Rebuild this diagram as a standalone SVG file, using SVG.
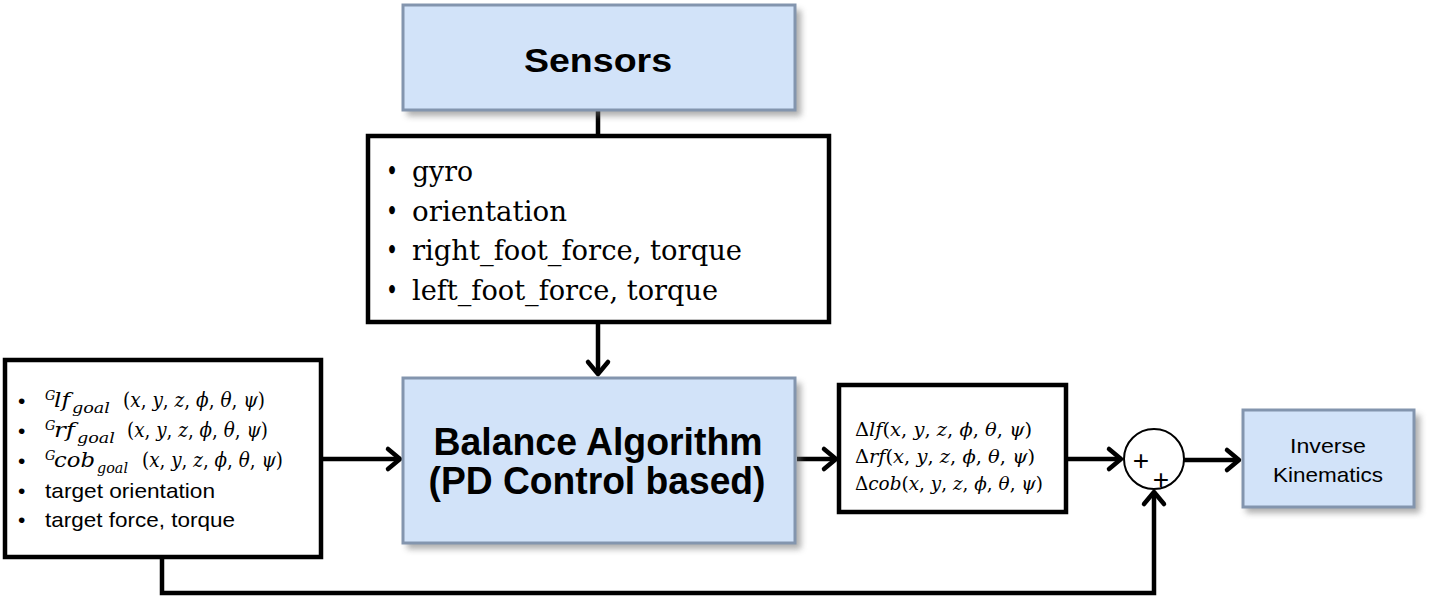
<svg xmlns="http://www.w3.org/2000/svg" width="1431" height="599" viewBox="0 0 1431 599">
<style>
.blk{fill:#fff;stroke:#000;stroke-width:4.5}
.blue{fill:#d2e3f9;stroke:#8395ae;stroke-width:3}
.shadow{fill:#6b6b6b;opacity:0.55}
.conn{fill:none;stroke:#000;stroke-width:4.5;stroke-linejoin:miter}
.arr{marker-end:url(#ah)}
.bold{font-family:"Liberation Sans",Arial,sans-serif;font-weight:bold;fill:#000}
.sans{font-family:"Liberation Sans",Arial,sans-serif;fill:#000}
.ser{font-family:"DejaVu Serif","Liberation Serif",serif;fill:#000}
.it{font-style:italic}
</style>
<defs>
<filter id="blur" x="-10%" y="-10%" width="120%" height="130%"><feGaussianBlur stdDeviation="3"/></filter>
<marker id="ah" markerUnits="userSpaceOnUse" markerWidth="30" markerHeight="30" refX="0" refY="0" orient="auto" overflow="visible">
<path d="M-12,-10 L0,0 L-12,10" fill="none" stroke="#000" stroke-width="4.5" stroke-linecap="round" stroke-linejoin="round"/>
</marker>
</defs>
<rect width="1431" height="599" fill="#fff"/>

<g id="connectors">
<line class="conn" x1="598" y1="110" x2="598" y2="136"/>
<line class="conn arr" x1="598" y1="323" x2="598" y2="374"/>
<line class="conn arr" x1="321" y1="459" x2="400" y2="459"/>
<line class="conn arr" x1="797" y1="459" x2="836" y2="459"/>
<line class="conn arr" x1="1066" y1="459" x2="1121" y2="459"/>
<line class="conn arr" x1="1184" y1="460" x2="1239" y2="460"/>
<polyline class="conn arr" points="162,557 162,593 1154,593 1154,492"/>
</g>

<g id="sensors">
<rect class="shadow" x="407" y="10" width="394" height="106" filter="url(#blur)"/>
<rect class="blue" x="403" y="5" width="392" height="105"/>
<text class="bold" x="598" y="72" font-size="33" text-anchor="middle" textLength="148" lengthAdjust="spacingAndGlyphs">Sensors</text>
</g>

<g id="sensor-list">
<rect class="blk" x="368" y="136" width="461" height="186"/>
<g class="ser" font-size="28">
<text x="386" y="181" textLength="12" lengthAdjust="spacingAndGlyphs">•</text>
<text x="412" y="181" textLength="61" lengthAdjust="spacingAndGlyphs">gyro</text>
<text x="386" y="221" textLength="12" lengthAdjust="spacingAndGlyphs">•</text>
<text x="412" y="221" textLength="155" lengthAdjust="spacingAndGlyphs">orientation</text>
<text x="386" y="260" textLength="12" lengthAdjust="spacingAndGlyphs">•</text>
<text x="412" y="260" textLength="330" lengthAdjust="spacingAndGlyphs">right_foot_force, torque</text>
<text x="386" y="300" textLength="12" lengthAdjust="spacingAndGlyphs">•</text>
<text x="412" y="300" textLength="306" lengthAdjust="spacingAndGlyphs">left_foot_force, torque</text>
</g>
</g>

<g id="balance">
<rect class="shadow" x="407" y="383" width="394" height="166" filter="url(#blur)"/>
<rect class="blue" x="403" y="378" width="392" height="165"/>
<text class="bold" x="598" y="455" font-size="38" text-anchor="middle" textLength="329" lengthAdjust="spacingAndGlyphs">Balance Algorithm</text>
<text class="bold" x="597" y="494" font-size="38" text-anchor="middle" textLength="337" lengthAdjust="spacingAndGlyphs">(PD Control based)</text>
</g>

<g id="goal-inputs">
<rect class="blk" x="5" y="360" width="316" height="197"/>
<g class="ser" font-size="20">
<text class="sans" x="18" y="408" font-size="21">•</text>
<text class="it" x="45" y="400" font-size="13">G</text>
<text class="it" x="54" y="407" textLength="16" lengthAdjust="spacingAndGlyphs">lf</text>
<text class="it" x="72" y="413" font-size="14" textLength="38" lengthAdjust="spacingAndGlyphs">goal</text>
<text x="123" y="407" textLength="142" lengthAdjust="spacingAndGlyphs">(<tspan class="it">x</tspan>, <tspan class="it">y</tspan>, <tspan class="it">z</tspan>, <tspan class="it">ϕ</tspan>, <tspan class="it">θ</tspan>, <tspan class="it">ψ</tspan>)</text>

<text class="sans" x="18" y="438" font-size="21">•</text>
<text class="it" x="45" y="430" font-size="13">G</text>
<text class="it" x="54" y="437" textLength="21" lengthAdjust="spacingAndGlyphs">rf</text>
<text class="it" x="77" y="443" font-size="14" textLength="38" lengthAdjust="spacingAndGlyphs">goal</text>
<text x="127" y="437" textLength="141" lengthAdjust="spacingAndGlyphs">(<tspan class="it">x</tspan>, <tspan class="it">y</tspan>, <tspan class="it">z</tspan>, <tspan class="it">ϕ</tspan>, <tspan class="it">θ</tspan>, <tspan class="it">ψ</tspan>)</text>

<text class="sans" x="18" y="468" font-size="21">•</text>
<text class="it" x="45" y="460" font-size="13">G</text>
<text class="it" x="54" y="467" textLength="41" lengthAdjust="spacingAndGlyphs">cob</text>
<text class="it" x="97" y="473" font-size="14" textLength="31" lengthAdjust="spacingAndGlyphs">goal</text>
<text x="142" y="467" textLength="141" lengthAdjust="spacingAndGlyphs">(<tspan class="it">x</tspan>, <tspan class="it">y</tspan>, <tspan class="it">z</tspan>, <tspan class="it">ϕ</tspan>, <tspan class="it">θ</tspan>, <tspan class="it">ψ</tspan>)</text>
</g>
<g class="sans" font-size="21">
<text x="18" y="498">•</text>
<text x="45" y="498" textLength="170" lengthAdjust="spacingAndGlyphs">target orientation</text>
<text x="18" y="527">•</text>
<text x="45" y="527" textLength="190" lengthAdjust="spacingAndGlyphs">target force, torque</text>
</g>
</g>

<g id="deltas">
<rect class="blk" x="839" y="385" width="227" height="127"/>
<g class="ser" font-size="19">
<text x="855" y="436" textLength="177" lengthAdjust="spacingAndGlyphs">Δ<tspan class="it">lf</tspan>(<tspan class="it">x</tspan>, <tspan class="it">y</tspan>, <tspan class="it">z</tspan>, <tspan class="it">ϕ</tspan>, <tspan class="it">θ</tspan>, <tspan class="it">ψ</tspan>)</text>
<text x="855" y="463" textLength="180" lengthAdjust="spacingAndGlyphs">Δ<tspan class="it">rf</tspan>(<tspan class="it">x</tspan>, <tspan class="it">y</tspan>, <tspan class="it">z</tspan>, <tspan class="it">ϕ</tspan>, <tspan class="it">θ</tspan>, <tspan class="it">ψ</tspan>)</text>
<text x="855" y="490" textLength="188" lengthAdjust="spacingAndGlyphs">Δ<tspan class="it">cob</tspan>(<tspan class="it">x</tspan>, <tspan class="it">y</tspan>, <tspan class="it">z</tspan>, <tspan class="it">ϕ</tspan>, <tspan class="it">θ</tspan>, <tspan class="it">ψ</tspan>)</text>
</g>
</g>

<g id="sum">
<circle cx="1154" cy="459" r="30" fill="#fff" stroke="#000" stroke-width="2"/>
<text class="sans" x="1141" y="470" font-size="28" text-anchor="middle">+</text>
<text class="sans" x="1161" y="489" font-size="28" text-anchor="middle">+</text>
</g>

<g id="inverse-kinematics">
<rect class="shadow" x="1246" y="415" width="174" height="98" filter="url(#blur)"/>
<rect class="blue" x="1243" y="410" width="171" height="97"/>
<text class="sans" x="1328" y="453" font-size="21" text-anchor="middle" textLength="76" lengthAdjust="spacingAndGlyphs">Inverse</text>
<text class="sans" x="1328" y="482" font-size="21" text-anchor="middle" textLength="110" lengthAdjust="spacingAndGlyphs">Kinematics</text>
</g>
</svg>
